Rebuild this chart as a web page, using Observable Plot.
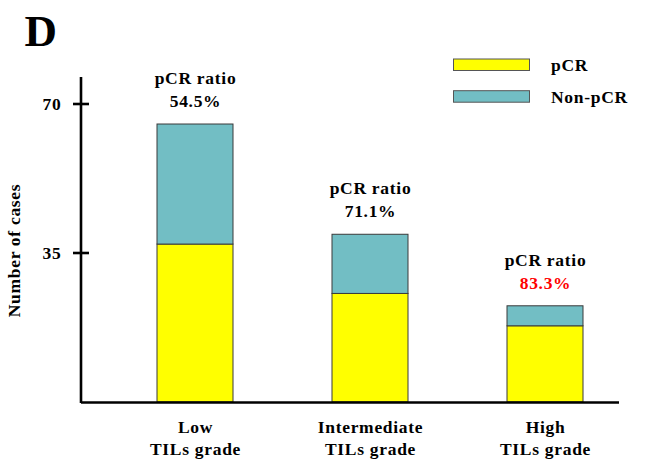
<!DOCTYPE html>
<html><head><meta charset="utf-8">
<script src="https://cdn.jsdelivr.net/npm/d3@7"></script>
<script src="https://cdn.jsdelivr.net/npm/@observablehq/plot@0.6"></script>
<style>
html,body{margin:0;padding:0;background:#fff;}
svg{display:block}
#chart svg text{letter-spacing:0.7px;}
</style>
</head><body><div id="chart"></div>
<script>
const categories = ["Low", "Intermediate", "High"];
const tickLabels = ["Low\nTILs grade", "Intermediate\nTILs grade", "High\nTILs grade"];
const series = ["pCR", "Non-pCR"];
const pcrCases = [37.1, 25.5, 17.9];
const nonPcrCases = [28.2, 13.9, 4.7];
const ratioTitle = "pCR ratio";
const ratioLabels = ["54.5%", "71.1%", "83.3%"];
const ratioColors = ["black", "black", "red"];
const yTicks = [35, 70];
const colors = ["#ffff00", "#72bec4"];
const panelLabel = "D";
const yLabel = "Number of cases";

const FONT = "'Liberation Serif', 'Times New Roman', serif";
const FS = 17.5;
const txt = {fontFamily: FONT, fontSize: FS, fontWeight: "bold", fill: "black"};

const rows = [];
categories.forEach((c, i) => {
  rows.push({grade: c, status: series[0], value: pcrCases[i]});
  rows.push({grade: c, status: series[1], value: nonPcrCases[i]});
});
const totals = categories.map((c, i) => ({grade: c, total: pcrCases[i] + nonPcrCases[i], i}));

// y axis line, crossing ticks and tick labels, drawn from the y scale
function yAxis(index, scales, values, dimensions) {
  const {marginLeft, marginTop, marginBottom, height} = dimensions;
  const y = scales.y;
  const g = d3.create("svg:g");
  g.append("line")
    .attr("x1", marginLeft).attr("x2", marginLeft)
    .attr("y1", marginTop).attr("y2", height - marginBottom + 1)
    .attr("stroke", "black").attr("stroke-width", 2.6);
  yTicks.forEach(t => {
    g.append("line")
      .attr("x1", marginLeft - 8).attr("x2", marginLeft + 8)
      .attr("y1", y(t)).attr("y2", y(t))
      .attr("stroke", "black").attr("stroke-width", 2.6);
    g.append("text")
      .attr("x", marginLeft - 19.5).attr("y", y(t)).attr("dy", "0.34em")
      .attr("text-anchor", "end")
      .attr("font-family", FONT).attr("font-weight", "bold").attr("font-size", FS)
      .attr("fill", "black").text(String(t));
  });
  return g.node();
}

function legend() {
  const g = d3.create("svg:g");
  series.forEach((s, i) => {
    g.append("rect")
      .attr("x", 453.5).attr("y", 59 + i * 31.7)
      .attr("width", 76).attr("height", 11.5)
      .attr("fill", colors[i]).attr("stroke", "#555").attr("stroke-width", 1);
    g.append("text")
      .attr("x", 551).attr("y", 70.5 + i * 32)
      .attr("text-anchor", "start")
      .attr("font-family", FONT).attr("font-weight", "bold").attr("font-size", FS)
      .attr("fill", "black")
      .text(s);
  });
  return g.node();
}

const chart = Plot.plot({
  width: 651,
  height: 459,
  marginLeft: 81,
  marginRight: 32,
  marginTop: 77,
  marginBottom: 57,
  style: {fontFamily: FONT, background: "white"},
  x: {domain: categories, range: [107, 633], paddingInner: 0.5665, paddingOuter: 0.283, axis: null},
  y: {domain: [0, 70], range: [402, 104], axis: null},
  color: {domain: series, range: colors},
  marks: [
    Plot.barY(rows, {x: "grade", y: "value", fill: "status", stroke: "#3a3a3a", strokeWidth: 1}),
    Plot.ruleY([0], {stroke: "black", strokeWidth: 2.6}),
    yAxis,
    Plot.text([yLabel], {...txt, frameAnchor: "left", textAnchor: "middle", rotate: -90, dx: -67, dy: 10.5}),
    Plot.text(totals, {...txt, x: "grade", y: "total", text: () => ratioTitle, lineAnchor: "bottom", dy: -40.5}),
    Plot.text(totals, {...txt, x: "grade", y: "total", text: d => ratioLabels[d.i], lineAnchor: "bottom", dy: -17.5, fill: d => ratioColors[d.i]}),
    Plot.text(categories, {...txt, x: d => d, text: (d, i) => tickLabels[i], frameAnchor: "bottom", textAnchor: "middle", dy: 14.4, lineAnchor: "top", lineHeight: 22 / FS}),
    Plot.text([panelLabel], {...txt, frameAnchor: "top-left", dx: -57, dy: -32, textAnchor: "start", lineAnchor: "bottom", fontSize: 45}),
    legend
  ]
});
document.getElementById("chart").append(chart);
</script>
</body></html>
